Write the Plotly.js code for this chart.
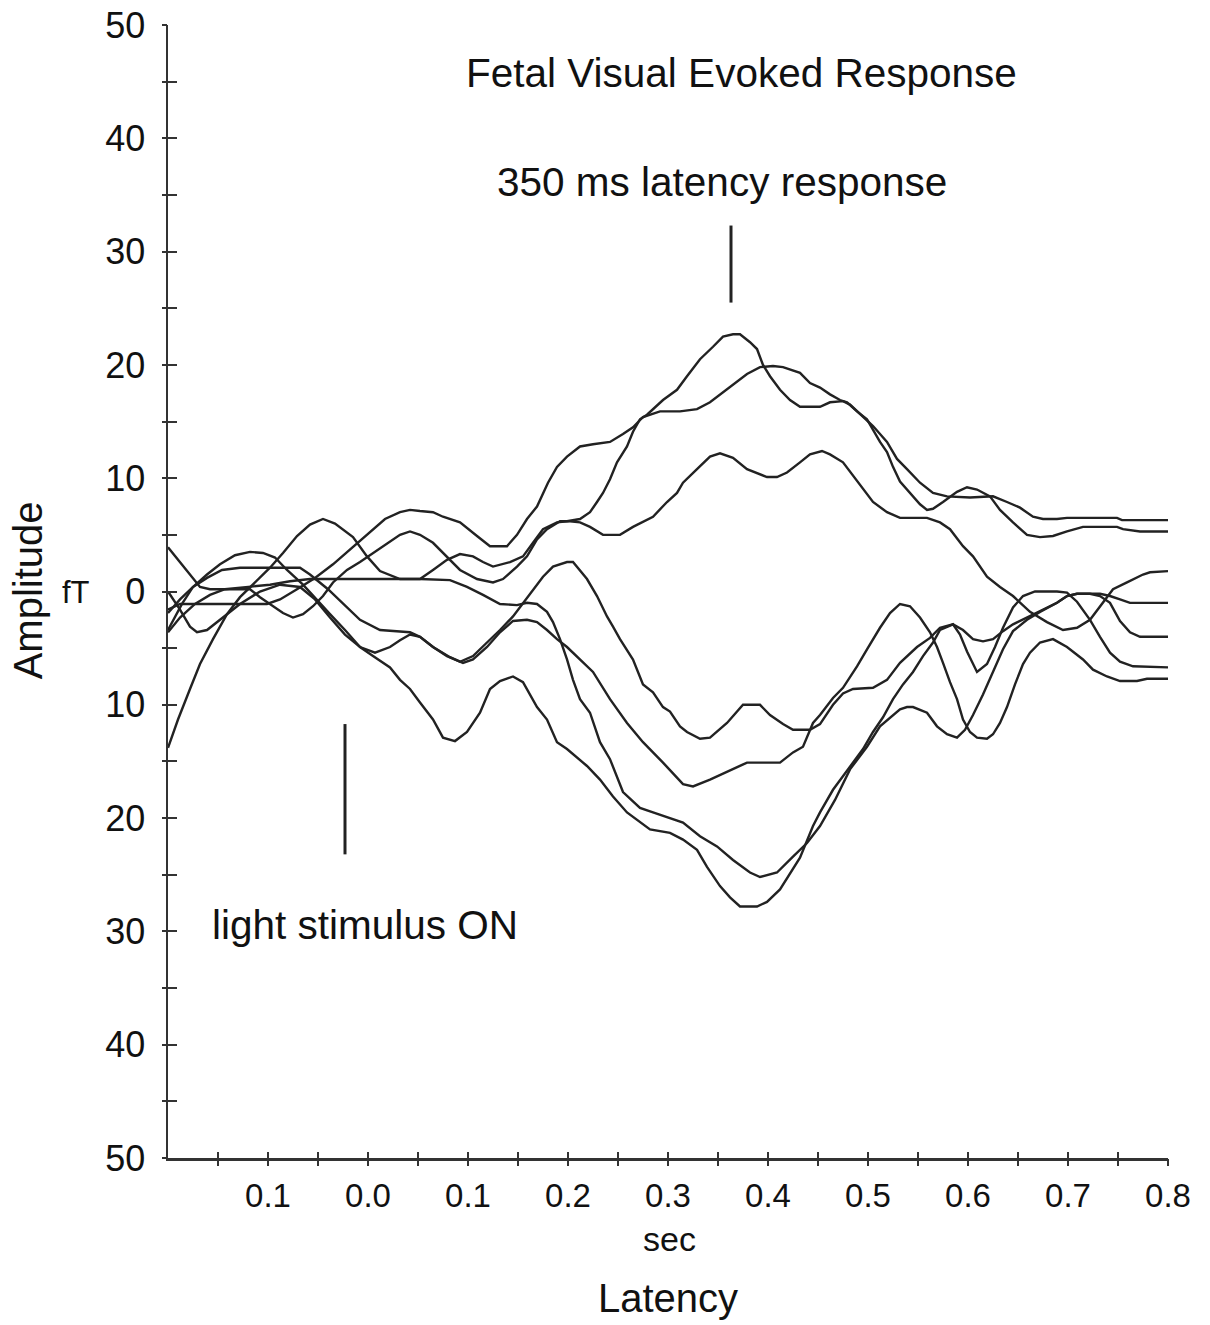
<!DOCTYPE html>
<html>
<head>
<meta charset="utf-8">
<script src="https://cdn.plot.ly/plotly-3.0.1.min.js"></script>
<style>html,body{margin:0;padding:0;background:#fff;}#chart{width:1210px;height:1325px;}</style>
</head>
<body>
<div id="chart"></div>
<script>
// Latency in ms, amplitude in fT (7 averaged traces)
const tA = [-200,-190,-178,-168,-155,-141,-128,-113,-98,-85,-71,-58,-45,-33,-15,-1,12,32,52,65,79,92,105,115,125,142,155,165,175,189,199,212,222,229,235,242,249,259,265,272,279,295,309,319,332,345,355,365,372,382,389,395,402,412,422,432,452,462,475,482,495,505,519,529,539,552,565,579,602,625,639,652,665,675,689,699,749,754,800];
const ampA = [-13.8,-11.3,-8.6,-6.4,-4.2,-2.0,-0.5,0.8,2.1,3.4,4.9,5.9,6.4,6.0,4.8,3.1,1.8,1.1,1.1,1.9,2.8,3.3,3.1,2.6,2.2,2.6,3.1,4.3,5.5,6.1,6.2,6.4,7.0,7.9,8.7,9.9,11.4,12.8,14.1,15.2,15.6,16.9,17.8,19.0,20.5,21.6,22.5,22.7,22.7,22.0,21.4,20.0,19.0,17.8,16.9,16.3,16.3,16.7,16.8,16.5,15.4,14.6,13.2,11.7,10.8,9.6,8.7,8.4,8.3,8.4,7.9,7.4,6.6,6.4,6.4,6.5,6.5,6.3,6.3];

const tB = [-200,-188,-101,-88,-71,-53,-35,-18,-1,17,32,42,52,65,75,92,109,122,139,149,159,169,180,189,199,212,225,242,255,265,275,292,312,329,342,355,365,379,392,405,415,432,442,452,462,472,479,489,499,505,512,519,525,532,542,552,559,565,575,589,599,609,622,632,645,659,672,685,699,715,749,755,772,800];
const ampB = [-1.6,-1.1,-1.1,-0.7,0.2,1.2,2.4,3.7,5.0,6.4,7.0,7.2,7.1,7.0,6.6,6.1,4.9,4.0,4.0,5.0,6.4,7.5,9.6,11.0,11.9,12.8,13.0,13.2,13.9,14.5,15.4,15.9,15.9,16.1,16.7,17.6,18.3,19.2,19.8,19.9,19.8,19.3,18.4,18.0,17.4,16.9,16.7,15.9,15.2,14.3,13.2,12.3,11.0,9.7,8.7,7.7,7.2,7.3,7.9,8.8,9.2,9.0,8.4,7.2,6.1,5.0,4.8,4.9,5.3,5.7,5.7,5.5,5.3,5.3];

const tC = [-200,-188,-178,-168,-158,-118,-108,-98,-85,-75,-65,-55,-45,-35,-21,-8,5,17,32,42,52,65,79,92,109,125,135,149,159,169,179,192,202,212,222,235,252,265,285,299,309,315,329,342,352,365,379,399,409,419,432,442,454,462,475,485,495,505,519,532,559,572,582,595,605,619,632,645,662,679,695,709,722,735,745,759,775,782,800];
const ampC = [3.9,2.6,1.5,0.4,0.2,0.2,-0.5,-1.1,-1.9,-2.3,-2.0,-1.3,-0.4,0.8,1.9,2.6,3.4,4.1,5.0,5.3,5.0,4.3,3.1,1.9,1.1,0.8,1.1,2.2,3.1,4.6,5.5,6.2,6.2,6.1,5.7,5.0,5.0,5.7,6.6,7.9,8.7,9.6,10.8,11.9,12.2,11.8,10.8,10.1,10.1,10.5,11.4,12.1,12.4,12.1,11.4,10.2,9.0,7.9,7.0,6.5,6.5,6.1,5.5,4.0,3.1,1.3,0.4,-0.4,-1.8,-2.7,-3.4,-3.2,-2.5,-1.0,0.2,0.8,1.5,1.7,1.8];

const tD = [-200,-188,-178,-171,-161,-148,-128,-108,-88,-68,-53,-38,-23,-8,7,22,32,42,52,65,79,92,105,119,132,145,155,165,175,185,199,205,219,229,239,245,252,265,275,285,295,302,312,319,332,342,349,359,375,392,402,415,425,442,452,465,475,485,505,519,532,549,562,572,585,595,605,615,625,635,645,659,672,689,699,709,732,742,752,762,800];
const ampD = [0.0,-1.6,-3.1,-3.6,-3.4,-2.5,-1.1,0.0,0.6,0.4,-0.7,-2.3,-3.8,-4.9,-5.4,-4.9,-4.3,-3.8,-4.0,-4.9,-5.7,-6.2,-5.7,-4.5,-3.4,-2.2,-1.0,0.2,1.3,2.2,2.6,2.6,1.1,-0.4,-2.2,-3.1,-4.2,-6.0,-8.2,-8.9,-10.2,-10.6,-11.9,-12.4,-13.0,-12.9,-12.4,-11.6,-10.0,-10.0,-10.9,-11.7,-12.2,-12.2,-11.7,-10.0,-9.0,-8.6,-8.5,-7.8,-6.3,-4.9,-4.1,-3.2,-2.9,-3.4,-4.2,-4.4,-4.2,-3.5,-2.9,-2.3,-1.8,-1.0,-0.4,-0.2,-0.2,-0.4,-0.7,-1.0,-1.0];

const tE = [-200,-188,-173,-158,-143,-118,-98,-78,-58,32,52,82,99,115,132,149,159,169,179,185,192,199,205,212,222,232,242,255,272,285,299,315,332,349,365,382,392,409,425,439,452,467,482,499,512,532,539,545,559,569,579,589,597,605,615,625,635,645,659,672,689,699,709,722,732,742,752,762,772,800];
const ampE = [-3.6,-2.3,-1.1,-0.3,0.2,0.4,0.6,0.9,1.1,1.1,1.1,1.0,0.4,-0.3,-1.1,-1.2,-1.0,-1.1,-1.8,-2.7,-4.2,-6.0,-7.8,-9.5,-10.7,-13.3,-14.8,-17.7,-19.1,-19.5,-19.9,-20.4,-21.6,-22.5,-23.7,-24.8,-25.2,-24.8,-23.4,-22.2,-20.7,-18.4,-15.7,-13.7,-11.9,-10.4,-10.2,-10.2,-10.7,-11.9,-12.6,-12.9,-12.2,-10.9,-9.1,-7.1,-5.1,-3.5,-2.5,-1.8,-1.0,-0.4,-0.2,-0.2,-0.4,-1.0,-2.6,-3.6,-4.0,-4.0];

const tF = [-200,-186,-175,-161,-148,-133,-118,-105,-93,-81,-65,-51,-38,-23,-8,5,22,32,42,52,65,75,87,99,112,122,132,145,155,169,179,189,199,219,232,245,259,282,302,315,329,339,352,362,372,389,399,412,432,445,452,465,482,495,505,515,525,535,545,555,565,572,585,592,599,609,619,627,635,645,655,667,689,699,709,722,732,742,752,765,800];
const ampF = [-3.4,-1.1,0.4,1.5,2.4,3.2,3.5,3.4,3.0,1.9,0.6,-0.7,-2.0,-3.4,-4.9,-5.7,-6.7,-7.8,-8.6,-9.8,-11.3,-12.9,-13.2,-12.4,-10.7,-8.6,-7.9,-7.5,-8.0,-10.2,-11.3,-13.3,-13.9,-15.4,-16.6,-18.1,-19.5,-21.0,-21.3,-21.9,-22.8,-24.3,-26.0,-27.0,-27.8,-27.8,-27.4,-26.3,-23.5,-20.7,-19.5,-17.5,-15.5,-13.9,-12.4,-11.1,-9.5,-8.2,-7.1,-5.7,-4.5,-3.4,-2.9,-3.8,-5.3,-7.1,-6.4,-4.9,-3.2,-1.4,-0.4,0.0,0.0,-0.1,-0.9,-2.5,-4.0,-5.4,-6.2,-6.6,-6.7];

const tG = [-200,-188,-175,-161,-146,-128,-68,-58,-40,-25,-8,12,32,42,52,65,82,95,105,119,132,145,159,169,179,189,199,212,225,242,259,275,295,315,325,342,359,379,412,425,435,445,452,465,475,489,499,512,522,532,542,552,562,569,575,582,589,595,602,609,619,625,632,639,647,655,662,672,685,699,715,725,739,752,769,779,800];
const ampG = [-1.9,-0.7,0.4,1.2,1.9,2.1,2.1,1.5,0.2,-1.1,-2.5,-3.4,-3.5,-3.6,-4.0,-4.9,-5.8,-6.3,-6.0,-4.9,-3.6,-2.6,-2.5,-2.7,-3.4,-4.2,-4.9,-6.0,-7.1,-9.5,-11.6,-13.3,-15.1,-17.0,-17.2,-16.6,-15.9,-15.1,-15.1,-14.2,-13.7,-11.6,-10.9,-9.4,-8.5,-6.6,-5.1,-3.2,-1.9,-1.1,-1.3,-2.3,-3.6,-4.9,-6.3,-8.0,-9.5,-11.3,-12.4,-12.9,-13.0,-12.6,-11.6,-10.2,-8.2,-6.4,-5.4,-4.5,-4.2,-4.9,-6.0,-6.9,-7.5,-7.9,-7.9,-7.7,-7.7];

// Vertical marker bars (latency in s, amplitude ends in fT)
const markerLatency = [0.363, -0.023];
const markerTop = [32.3, -11.7];
const markerBottom = [25.5, -23.2];

// Tick labels
const xTickVals = [-0.15,-0.1,-0.05,0,0.05,0.1,0.15,0.2,0.25,0.3,0.35,0.4,0.45,0.5,0.55,0.6,0.65,0.7,0.75,0.8];
const xTickText = ["","0.1","","0.0","","0.1","","0.2","","0.3","","0.4","","0.5","","0.6","","0.7","","0.8"];
const yTickVals = [-50,-45,-40,-35,-30,-25,-20,-15,-10,-5,0,5,10,15,20,25,30,35,40,45,50];
const yTickText = ["50","","40","","30","","20","","10","","0","","10","","20","","30","","40","","50"];

const FONT = "Liberation Sans, Arial, Helvetica, sans-serif";
const INK = "#222222";

const series = [[tA,ampA],[tB,ampB],[tC,ampC],[tD,ampD],[tE,ampE],[tF,ampF],[tG,ampG]];
const traces = series.map(([t,a]) => ({
  type: "scatter", mode: "lines",
  x: t.map(v => v/1000), y: a,
  line: {color: INK, width: 2.4},
  hoverinfo: "skip"
}));
markerLatency.forEach((lx,i) => {
  traces.push({type:"scatter", mode:"lines", x:[lx,lx], y:[markerBottom[i],markerTop[i]],
    line:{color:INK, width:3}, hoverinfo:"skip"});
});
// invisible trace for the overlay tick axes
traces.push({type:"scatter", mode:"markers", x:[0], y:[0], xaxis:"x2", yaxis:"y2",
  marker:{opacity:0}, hoverinfo:"skip"});

const axisCommon = {showgrid:false, zeroline:false, tickmode:"array", tickcolor:"#333", tickwidth:2, fixedrange:true};

const layout = {
  width:1210, height:1325,
  margin:{l:168, r:42, t:25, b:167},
  paper_bgcolor:"#fff", plot_bgcolor:"#fff",
  showlegend:false,
  font:{family:FONT, color:"#111"},
  xaxis: Object.assign({}, axisCommon, {
    range:[-0.2,0.8], showline:true, linecolor:"#333", linewidth:2.5,
    ticks:"inside", ticklen:6, tickvals:xTickVals, ticktext:xTickText,
    tickfont:{family:FONT, size:33, color:"#111"}, ticklabelstandoff:7
  }),
  yaxis: Object.assign({}, axisCommon, {
    range:[-50,50], showline:true, linecolor:"#333", linewidth:2.5,
    ticks:"inside", ticklen:9, tickvals:yTickVals, ticktext:yTickText,
    tickfont:{family:FONT, size:36, color:"#111"}, ticklabelstandoff:13
  }),
  xaxis2: Object.assign({}, axisCommon, {
    range:[-0.2,0.8], overlaying:"x", anchor:"y", side:"bottom", showline:false,
    ticks:"outside", ticklen:7, tickvals:xTickVals, showticklabels:false
  }),
  yaxis2: Object.assign({}, axisCommon, {
    range:[-50,50], overlaying:"y", anchor:"x", side:"left", showline:false,
    ticks:"outside", ticklen:5, tickvals:yTickVals, showticklabels:false
  }),
  annotations:[
    {text:"Fetal Visual Evoked Response", xref:"paper", yref:"paper", x:0.573, y:0.958, showarrow:false, xanchor:"center", yanchor:"middle", font:{family:FONT, size:40.5, color:"#111"}},
    {text:"350 ms latency response", xref:"paper", yref:"paper", x:0.5535, y:0.861, showarrow:false, xanchor:"center", yanchor:"middle", font:{family:FONT, size:40.5, color:"#111"}},
    {text:"light stimulus ON", xref:"paper", yref:"paper", x:0.197, y:0.2056, showarrow:false, xanchor:"center", yanchor:"middle", font:{family:FONT, size:40.5, color:"#111"}},
    {text:"Amplitude", xref:"paper", yref:"paper", x:-0.14, y:0.501, textangle:-90, showarrow:false, xanchor:"center", yanchor:"middle", font:{family:FONT, size:40, color:"#111"}},
    {text:"fT", xref:"paper", yref:"paper", x:-0.092, y:0.499, showarrow:false, xanchor:"center", yanchor:"middle", font:{family:FONT, size:31, color:"#111"}},
    {text:"sec", xref:"paper", yref:"paper", x:0.501, y:-0.0715, showarrow:false, xanchor:"center", yanchor:"middle", font:{family:FONT, size:34, color:"#111"}},
    {text:"Latency", xref:"paper", yref:"paper", x:0.5, y:-0.1236, showarrow:false, xanchor:"center", yanchor:"middle", font:{family:FONT, size:40, color:"#111"}}
  ]
};

Plotly.newPlot("chart", traces, layout, {staticPlot:true, displayModeBar:false});
</script>
</body>
</html>
